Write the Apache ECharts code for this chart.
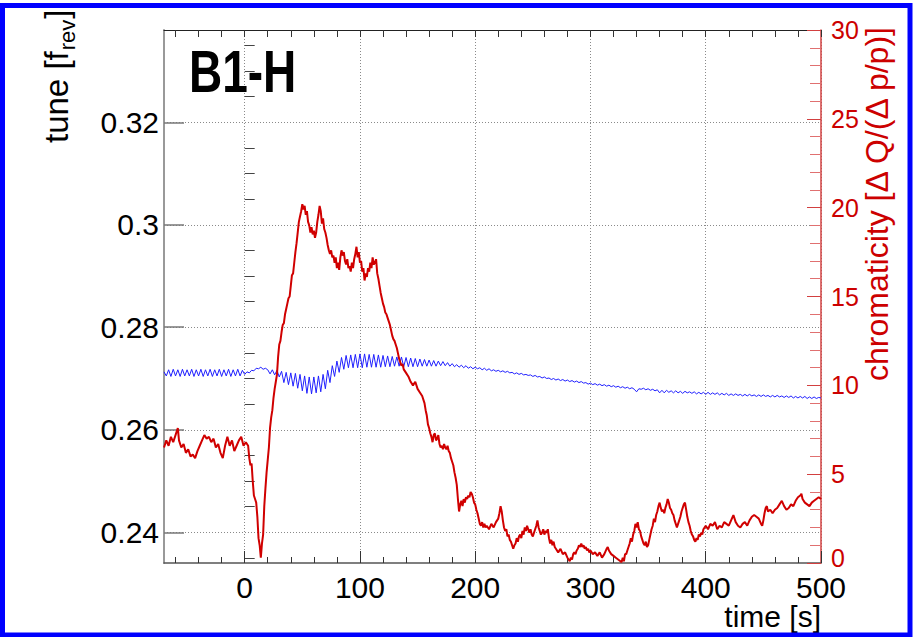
<!DOCTYPE html>
<html><head><meta charset="utf-8">
<script src="https://cdn.jsdelivr.net/npm/echarts@6/dist/echarts.min.js"></script>
<style>html,body{margin:0;padding:0;background:#fff}#c{width:913px;height:637px}</style>
</head><body><div id="c"></div>
<script>
// ---------------- data ----------------
const timeLabelTicks = [0, 100, 200, 300, 400, 500];
const timeMinorTicks = [-60,-40,-20,20,40,60,80,120,140,160,180,220,240,260,280,320,340,360,380,420,440,460,480];
const timeTopTicks = [-60,-40,-20,0,20,40,60,80,100,120,140,160,180,200,220,240,260,280,300,320,340,360,380,400,420,440,460,480,500];
const tuneMajorTicks = [0.24, 0.26, 0.28, 0.30, 0.32];
const tuneMinorTicks = [0.235,0.245,0.25,0.255,0.265,0.27,0.275,0.285,0.29,0.295,0.305,0.31,0.315,0.325,0.33,0.335];
const chromaTicks = [0, 5, 10, 15, 20, 25, 30];

// tune (blue), sampled every 2 s starting at t = -70 s
const tuneT0 = -70, tuneDt = 2;
const tuneValues = [
0.2713,0.2705,0.2717,0.2704,0.2718,0.2705,0.2717,0.2704,0.2718,0.2705,
0.2717,0.2705,0.2718,0.2704,0.2717,0.2705,0.2718,0.2704,0.2717,0.2705,
0.2718,0.2704,0.2717,0.2705,0.2718,0.2704,0.2717,0.2705,0.2718,0.2704,
0.2717,0.2705,0.2718,0.2705,0.2716,0.2708,0.2713,0.2711,0.2716,0.2715,
0.2720,0.2719,0.2722,0.2718,0.2720,0.2717,0.2709,0.2717,0.2707,0.2716,
0.2703,0.2714,0.2692,0.2712,0.2688,0.2711,0.2685,0.2710,0.2681,0.2708,
0.2676,0.2705,0.2671,0.2703,0.2670,0.2703,0.2672,0.2705,0.2674,0.2708,
0.2680,0.2716,0.2692,0.2725,0.2704,0.2734,0.2712,0.2741,0.2718,0.2745,
0.2721,0.2746,0.2721,0.2747,0.2721,0.2748,0.2721,0.2748,0.2722,0.2747,
0.2722,0.2747,0.2722,0.2746,0.2722,0.2745,0.2723,0.2744,0.2723,0.2743,
0.2724,0.2742,0.2724,0.2742,0.2723,0.2741,0.2723,0.2740,0.2723,0.2739,
0.2723,0.2738,0.2724,0.2737,0.2724,0.2736,0.2724,0.2735,0.2724,0.2734,
0.2725,0.2733,0.2725,0.2731,0.2724,0.2729,0.2723,0.2727,0.2722,0.2726,
0.2721,0.2725,0.2720,0.2723,0.2719,0.2722,0.2719,0.2721,0.2717,0.2720,
0.2716,0.2719,0.2715,0.2717,0.2714,0.2716,0.2713,0.2715,0.2712,0.2714,
0.2711,0.2712,0.2709,0.2711,0.2708,0.2710,0.2707,0.2708,0.2706,0.2707,
0.2704,0.2706,0.2703,0.2704,0.2701,0.2703,0.2700,0.2701,0.2698,0.2700,
0.2697,0.2699,0.2696,0.2698,0.2695,0.2697,0.2694,0.2696,0.2693,0.2695,
0.2692,0.2694,0.2691,0.2692,0.2689,0.2691,0.2688,0.2690,0.2687,0.2689,
0.2686,0.2688,0.2685,0.2687,0.2684,0.2686,0.2683,0.2685,0.2682,0.2684,
0.2681,0.2683,0.2680,0.2682,0.2679,0.2674,0.2680,0.2679,0.2681,0.2678,
0.2680,0.2677,0.2679,0.2676,0.2678,0.2672,0.2677,0.2672,0.2677,0.2673,
0.2676,0.2672,0.2676,0.2672,0.2675,0.2671,0.2675,0.2672,0.2674,0.2671,
0.2674,0.2670,0.2673,0.2670,0.2673,0.2669,0.2673,0.2669,0.2672,0.2669,
0.2672,0.2668,0.2671,0.2668,0.2671,0.2667,0.2670,0.2667,0.2670,0.2667,
0.2669,0.2666,0.2669,0.2666,0.2669,0.2666,0.2668,0.2665,0.2668,0.2665,
0.2668,0.2665,0.2667,0.2664,0.2667,0.2664,0.2667,0.2664,0.2666,0.2663,
0.2666,0.2663,0.2666,0.2662,0.2665,0.2662,0.2665,0.2662,0.2665,0.2661,
0.2664,0.2661,0.2664,0.2661,0.2663,0.2662
];

// chromaticity (red): [time s, value]
const chromaPoints = [
[-70,6.5],[-68,6.9],[-66,6.6],[-64,7.1],[-62,6.8],[-60,7.2],[-58,7.6],[-57,6.9],[-55,6.5],[-53,6.7],
[-51,6.2],[-49,6.4],[-47,6.0],[-45,6.1],[-43,5.9],[-41,6.3],[-39,6.6],[-37,6.9],[-35,7.2],[-33,7.0],
[-31,7.1],[-29,6.8],[-27,7.0],[-25,6.5],[-23,6.7],[-21,6.2],[-19,5.9],[-17,6.6],[-15,7.1],[-13,6.6],
[-11,6.9],[-9,6.3],[-7,6.6],[-5,6.9],[-3,7.1],[-1,6.6],[1,6.8],[3,6.6],[4,5.9],[5,5.5],
[6,5.6],[7,4.6],[8,3.8],[9,3.6],[10,3.4],[11,2.6],[12,1.4],[13,1.0],[14,0.3],[15,1.1],
[16,1.6],[17,3.2],[18,4.2],[19,5.1],[20,5.8],[21,6.5],[22,7.6],[23,8.2],[24,8.6],[25,9.3],
[26,9.8],[27,10.2],[28,10.6],[29,11.6],[30,12.3],[31,12.5],[32,13.0],[33,13.4],[34,13.5],[35,14.0],
[36,14.3],[37,14.6],[38,14.9],[39,15.0],[40,15.6],[41,16.2],[42,16.3],[43,16.9],[44,17.5],[45,18.0],
[46,18.6],[47,19.2],[48,19.5],[49,19.8],[50,20.2],[51,19.9],[52,20.1],[53,19.6],[54,19.8],[55,19.2],
[56,19.0],[57,18.6],[58,18.9],[59,18.5],[60,18.7],[61,18.3],[62,18.6],[63,19.2],[64,19.6],[65,20.1],
[66,19.8],[67,19.1],[68,19.4],[69,18.8],[70,18.6],[71,18.3],[72,17.9],[73,17.6],[74,17.4],[75,17.6],
[76,17.2],[77,17.3],[78,16.9],[79,17.2],[80,16.6],[81,16.9],[82,16.5],[83,17.2],[84,17.6],[85,17.3],
[86,17.5],[87,17.0],[88,16.8],[89,17.1],[90,16.6],[91,16.7],[92,16.4],[93,16.9],[94,16.6],[95,17.1],
[96,17.4],[97,17.8],[98,17.2],[99,17.5],[100,16.9],[101,17.0],[102,16.4],[103,16.6],[104,15.9],[105,16.3],
[106,16.1],[107,16.6],[108,16.4],[109,16.9],[110,16.6],[111,17.2],[112,16.8],[113,16.9],[114,17.1],[115,16.3],
[116,16.0],[117,15.6],[118,15.2],[119,14.9],[120,14.6],[121,14.4],[122,14.1],[123,14.0],[124,13.8],[125,13.6],
[126,13.4],[127,13.1],[128,12.8],[129,12.6],[130,12.5],[131,12.3],[132,12.1],[133,11.8],[134,11.5],[135,11.3],
[136,11.1],[137,11.2],[138,10.9],[139,10.8],[140,10.7],[142,10.5],[144,10.2],[146,10.0],[148,10.2],[150,9.8],
[152,9.6],[154,9.4],[156,9.0],[157,8.6],[158,8.3],[159,7.8],[160,7.6],[161,7.3],[162,7.1],[163,6.8],
[164,7.2],[165,7.3],[166,6.9],[167,7.0],[168,7.2],[169,6.7],[170,6.5],[171,6.6],[172,6.4],[173,6.7],
[174,6.5],[175,6.4],[176,6.6],[177,6.3],[178,6.2],[179,5.9],[180,5.7],[181,5.5],[182,5.1],[183,4.8],
[184,4.4],[185,3.6],[186,2.9],[187,3.3],[188,3.5],[189,3.2],[190,3.6],[191,3.4],[192,3.7],[193,3.6],
[194,3.8],[195,3.7],[196,4.0],[197,3.9],[198,3.7],[199,3.4],[200,3.3],[201,3.0],[202,2.8],[203,2.5],
[204,2.2],[205,2.1],[206,2.3],[207,2.0],[208,2.2],[209,2.0],[210,2.1],[212,1.9],[214,2.2],[216,2.0],
[218,2.3],[220,2.5],[221,2.8],[222,3.2],[223,2.9],[224,2.4],[225,2.0],[226,1.8],[227,1.9],[228,1.5],
[229,1.6],[230,1.3],[231,1.2],[232,1.0],[233,0.8],[234,1.0],[235,1.1],[236,1.4],[237,1.2],[238,1.5],
[239,1.6],[240,1.4],[241,1.8],[242,1.6],[243,2.0],[244,1.8],[245,2.1],[246,1.9],[247,1.7],[248,1.9],
[249,1.6],[250,1.5],[251,1.7],[252,1.9],[253,2.1],[254,2.4],[255,2.0],[256,1.8],[257,1.6],[258,1.7],
[259,1.9],[260,1.6],[261,1.8],[262,1.7],[263,1.9],[264,1.4],[265,1.1],[266,1.3],[267,1.0],[268,1.2],
[269,0.9],[270,0.8],[272,0.6],[274,0.8],[276,0.5],[278,0.6],[280,0.3],[282,0.1],[283,0.3],[284,0.2],
[285,0.5],[286,0.6],[287,0.5],[288,0.7],[289,0.8],[290,1.0],[291,0.9],[292,1.1],[293,0.9],[294,1.0],
[295,0.8],[296,0.9],[297,0.7],[298,0.8],[299,0.6],[300,0.7],[302,0.5],[304,0.6],[306,0.4],[308,0.6],
[310,0.3],[312,0.5],[314,0.8],[315,0.9],[316,0.7],[318,0.5],[320,0.4],[322,0.3],[324,0.2],[326,0.1],
[327,0.05],[328,0.3],[329,0.1],[330,0.5],[331,0.5],[332,0.7],[333,0.9],[334,1.1],[335,1.4],[336,1.2],
[337,1.6],[338,1.8],[339,2.2],[340,2.0],[341,2.3],[342,1.9],[343,1.8],[344,1.5],[345,1.3],[346,1.1],
[347,1.0],[348,1.2],[349,0.9],[350,1.0],[351,1.3],[352,1.6],[353,1.9],[354,2.1],[355,2.5],[356,2.3],
[357,2.7],[358,2.9],[359,3.2],[360,3.4],[361,3.1],[362,2.9],[363,3.0],[364,2.8],[365,3.1],[366,3.3],
[367,3.6],[368,3.4],[369,3.1],[370,3.0],[371,2.8],[372,2.7],[373,2.4],[374,2.2],[375,2.0],[376,2.2],
[377,2.4],[378,2.6],[379,2.9],[380,3.1],[381,3.3],[382,3.4],[383,3.0],[384,2.6],[385,2.3],[386,2.1],
[387,1.8],[388,1.6],[389,1.5],[390,1.3],[391,1.2],[392,1.4],[393,1.3],[394,1.6],[395,1.5],[396,1.7],
[397,1.6],[398,1.9],[399,2.0],[400,2.1],[402,1.9],[404,2.2],[406,2.1],[408,2.3],[410,1.9],[412,2.1],
[414,2.0],[416,2.3],[418,2.2],[420,2.1],[422,2.4],[424,2.7],[426,2.3],[428,2.1],[430,2.0],[432,2.2],
[434,2.3],[436,2.1],[438,2.4],[440,2.6],[442,2.7],[444,2.6],[446,2.5],[448,2.2],[449,2.1],[450,2.4],
[451,2.8],[452,3.1],[453,3.2],[454,2.9],[456,3.0],[458,2.8],[460,3.0],[462,3.1],[464,3.3],[466,3.5],
[468,3.2],[470,3.0],[472,3.1],[474,3.3],[476,3.2],[478,3.5],[480,3.7],[482,3.8],[483,3.9],[484,3.6],
[486,3.4],[488,3.3],[490,3.2],[492,3.4],[494,3.5],[496,3.6],[498,3.7],[500,3.6]
];

// ---------------- chart ----------------
const FONT = '"Liberation Sans", Arial, Helvetica, sans-serif';
const RED = '#cc0000';
const chart = echarts.init(document.getElementById('c'), null, {renderer: 'svg', width: 913, height: 637});
const mctx = document.createElement('canvas').getContext('2d');
function textW(t, size, weight) { mctx.font = (weight || 'normal') + ' ' + size + 'px ' + FONT; return mctx.measureText(t).width; }

const tuneData = tuneValues.map((v, i) => [tuneT0 + i * tuneDt, v]);
const TS = 33, SS = 22;
const w1 = textW('tune [f', TS), w2 = textW('rev', SS);

const dotted = {color: '#8a8a8a', width: 1, type: [1, 2]};

chart.setOption({
  animation: false,
  backgroundColor: '#ffffff',
  grid: {left: 164, right: 92, top: 30, bottom: 74, containLabel: false},
  xAxis: [
    {type: 'value', min: -70, max: 500, position: 'bottom',
     axisLine: {show: true, onZero: false, lineStyle: {color: '#555', width: 1.5}},
     axisTick: {show: true, inside: true, length: 12, customValues: timeLabelTicks, lineStyle: {color: '#333'}},
     axisLabel: {show: true, customValues: timeLabelTicks, margin: 10, fontSize: 30, lineHeight: 28, color: '#000', fontFamily: FONT},
     splitLine: {show: true, lineStyle: dotted}},
    {type: 'value', min: -70, max: 500, position: 'bottom',
     axisLine: {show: false},
     axisTick: {show: true, inside: true, length: 6, customValues: timeMinorTicks, lineStyle: {color: '#333'}},
     axisLabel: {show: false}, splitLine: {show: false}},
    {type: 'value', min: -70, max: 500, position: 'top',
     axisLine: {show: true, onZero: false, lineStyle: {color: '#222', width: 1}},
     axisTick: {show: true, inside: true, length: 7, customValues: timeTopTicks, lineStyle: {color: '#333'}},
     axisLabel: {show: false}, splitLine: {show: false}}
  ],
  yAxis: [
    {type: 'value', min: 0.234, max: 0.338, position: 'left',
     axisLine: {show: true, onZero: false, lineStyle: {color: '#999', width: 2}},
     axisTick: {show: true, inside: true, length: 20, customValues: tuneMajorTicks, lineStyle: {color: '#777', width: 1.5}},
     axisLabel: {show: true, customValues: tuneMajorTicks, margin: 5, fontSize: 30, color: '#000', fontFamily: FONT,
                 formatter: v => String(+(+v).toFixed(2))},
     splitLine: {show: true, lineStyle: dotted}},
    {type: 'value', min: 0.234, max: 0.338, position: 'left',
     axisLine: {show: false},
     axisTick: {show: true, inside: true, length: 10, customValues: tuneMinorTicks, lineStyle: {color: '#444'}},
     axisLabel: {show: false}, splitLine: {show: false}},
    {type: 'value', min: 0, max: 30, interval: 5, position: 'right',
     axisLine: {show: true, onZero: false, lineStyle: {color: '#d24040', width: 1.5}},
     axisTick: {show: true, inside: true, length: 14, lineStyle: {color: '#d24040'}},
     minorTick: {show: true, splitNumber: 5, length: 11, lineStyle: {color: '#e07070'}},
     axisLabel: {show: true, showMinLabel: false, margin: 10, fontSize: 25, lineHeight: 20, color: RED, fontFamily: FONT},
     splitLine: {show: false}}
  ],
  series: [
    {type: 'line', name: 'tune', xAxisIndex: 0, yAxisIndex: 0, data: tuneData, symbol: 'none', showSymbol: false,
     lineStyle: {color: '#1f1fff', width: 1}, z: 3},
    {type: 'line', name: 'chromaticity', xAxisIndex: 0, yAxisIndex: 2, data: chromaPoints, symbol: 'none', showSymbol: false,
     lineStyle: {color: '#d00000', width: 2}, z: 4}
  ],
  graphic: [
    {type: 'rect', silent: true, z: 100, shape: {x: 2.5, y: 5.5, width: 907.5, height: 629.5},
     style: {fill: 'none', stroke: '#0000ff', lineWidth: 5}},
    {type: 'text', z: 50, x: 189, y: 71, scaleY: 1.28,
     style: {text: 'B1-H', fontSize: 46, fontWeight: 'bold', fontFamily: FONT, fill: '#000', align: 'left', verticalAlign: 'middle'}},
    {type: 'group', x: 56, y: 143, rotation: Math.PI / 2, z: 50, children: [
      {type: 'text', x: 0, y: 0, style: {text: 'tune [f', fontSize: TS, fontFamily: FONT, fill: '#000', align: 'left', verticalAlign: 'middle'}},
      {type: 'text', x: w1 + 1, y: 11, style: {text: 'rev', fontSize: SS, fontFamily: FONT, fill: '#000', align: 'left', verticalAlign: 'middle'}},
      {type: 'text', x: w1 + w2 + 2, y: 0, style: {text: ']', fontSize: TS, fontFamily: FONT, fill: '#000', align: 'left', verticalAlign: 'middle'}}
    ]},
    // lowest chromaticity tick label, nudged up so it does not collide with "500"
    {type: 'text', x: 831, y: 558, z: 50,
     style: {text: String(chromaTicks[0]), fontSize: 25, lineHeight: 20, fontFamily: FONT, fill: RED, align: 'left', verticalAlign: 'middle'}},
    {type: 'text', x: 877, y: 381, rotation: Math.PI / 2, z: 50,
     style: {text: 'chromaticity [\u0394 Q/(\u0394 p/p)]', fontSize: 32, fontFamily: FONT, fill: RED, align: 'left', verticalAlign: 'middle'}},
    {type: 'text', x: 821, y: 616, z: 50,
     style: {text: 'time [s]', fontSize: 30, lineHeight: 30, fontFamily: FONT, fill: '#000', align: 'right', verticalAlign: 'middle'}}
  ]
});
</script>
</body></html>
